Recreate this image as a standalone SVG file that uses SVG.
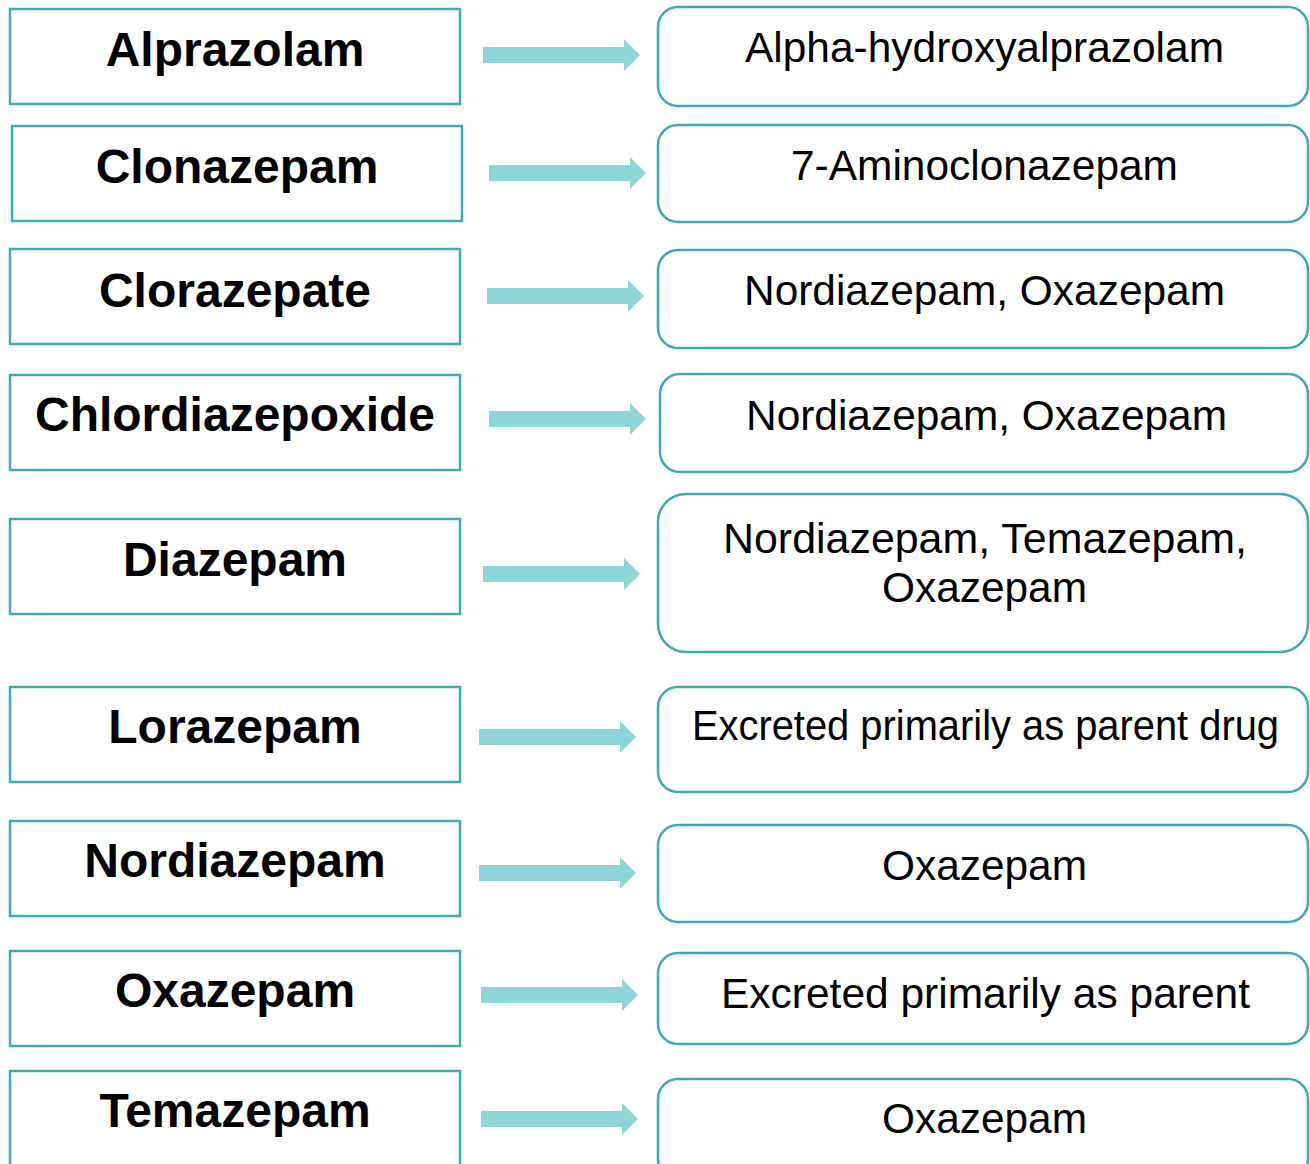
<svg xmlns="http://www.w3.org/2000/svg" width="1310" height="1164" viewBox="0 0 1310 1164">
<style>
.drug{fill:#ffffff;stroke:#3cadb1;stroke-width:2.5}
.met{fill:#ffffff;stroke:#3ea9ae;stroke-width:2.5}
.dt{font-family:"Liberation Sans",Arial,sans-serif;font-weight:bold;font-size:48px;fill:#000;text-anchor:middle}
.mt{font-family:"Liberation Sans",Arial,sans-serif;font-size:42px;fill:#000;text-anchor:middle}
.arr{fill:#8ed5d8}
</style>
<rect width="1310" height="1164" fill="#ffffff"/>
<g id="connectors">
<path class="arr" d="M483 47 H624 V39 L640 55 L624 71 V63 H483 Z"/>
<path class="arr" d="M489 165 H630 V157 L646 173 L630 189 V181 H489 Z"/>
<path class="arr" d="M487 288 H628 V280 L644 296 L628 312 V304 H487 Z"/>
<path class="arr" d="M489 411 H630 V403 L646 419 L630 435 V427 H489 Z"/>
<path class="arr" d="M483 566 H624 V558 L640 574 L624 590 V582 H483 Z"/>
<path class="arr" d="M479 729 H620 V721 L636 737 L620 753 V745 H479 Z"/>
<path class="arr" d="M479 865 H620 V857 L636 873 L620 889 V881 H479 Z"/>
<path class="arr" d="M481 987 H622 V979 L638 995 L622 1011 V1003 H481 Z"/>
<path class="arr" d="M481 1111 H622 V1103 L638 1119 L622 1135 V1127 H481 Z"/>
</g>
<g id="alprazolam"><rect class="drug" x="10" y="9" width="450" height="95"/><text class="dt" x="235" y="66">Alprazolam</text></g>
<g id="clonazepam"><rect class="drug" x="12" y="126" width="450" height="95"/><text class="dt" x="237" y="183">Clonazepam</text></g>
<g id="clorazepate"><rect class="drug" x="10" y="249" width="450" height="95"/><text class="dt" x="235" y="307">Clorazepate</text></g>
<g id="chlordiazepoxide"><rect class="drug" x="10" y="375" width="450" height="95"/><text class="dt" x="235" y="431">Chlordiazepoxide</text></g>
<g id="diazepam"><rect class="drug" x="10" y="519" width="450" height="95"/><text class="dt" x="235" y="576">Diazepam</text></g>
<g id="lorazepam"><rect class="drug" x="10" y="687" width="450" height="95"/><text class="dt" x="235" y="743">Lorazepam</text></g>
<g id="nordiazepam"><rect class="drug" x="10" y="821" width="450" height="95"/><text class="dt" x="235" y="877">Nordiazepam</text></g>
<g id="oxazepam"><rect class="drug" x="10" y="951" width="450" height="95"/><text class="dt" x="235" y="1007">Oxazepam</text></g>
<g id="temazepam"><rect class="drug" x="10" y="1071" width="450" height="100"/><text class="dt" x="235" y="1127">Temazepam</text></g>
<g id="m-alpha"><rect class="met" x="658" y="7" width="650" height="99" rx="20"/><text class="mt" x="984.5" y="62" textLength="479" lengthAdjust="spacingAndGlyphs">Alpha-hydroxyalprazolam</text></g>
<g id="m-7amino"><rect class="met" x="658" y="125" width="650" height="97" rx="20"/><text class="mt" x="984.5" y="180" textLength="387" lengthAdjust="spacingAndGlyphs">7-Aminoclonazepam</text></g>
<g id="m-clorazepate"><rect class="met" x="658" y="250" width="650" height="98" rx="20"/><text class="mt" x="984.5" y="305" textLength="481" lengthAdjust="spacingAndGlyphs">Nordiazepam, Oxazepam</text></g>
<g id="m-chlordiazepoxide"><rect class="met" x="660" y="374" width="648" height="98" rx="20"/><text class="mt" x="986.5" y="430" textLength="481" lengthAdjust="spacingAndGlyphs">Nordiazepam, Oxazepam</text></g>
<g id="m-diazepam"><rect class="met" x="658" y="494" width="650" height="158" rx="28"/><text class="mt" x="985" y="553" textLength="524" lengthAdjust="spacingAndGlyphs">Nordiazepam, Temazepam,</text><text class="mt" x="984.5" y="602" textLength="205" lengthAdjust="spacingAndGlyphs">Oxazepam</text></g>
<g id="m-lorazepam"><rect class="met" x="658" y="687" width="650" height="105" rx="20"/><text class="mt" x="985.5" y="740" textLength="587" lengthAdjust="spacingAndGlyphs">Excreted primarily as parent drug</text></g>
<g id="m-nordiazepam"><rect class="met" x="658" y="825" width="650" height="97" rx="20"/><text class="mt" x="984.5" y="880" textLength="205" lengthAdjust="spacingAndGlyphs">Oxazepam</text></g>
<g id="m-oxazepam"><rect class="met" x="658" y="953" width="650" height="91" rx="20"/><text class="mt" x="985.5" y="1008" textLength="529" lengthAdjust="spacingAndGlyphs">Excreted primarily as parent</text></g>
<g id="m-temazepam"><rect class="met" x="658" y="1079" width="650" height="100" rx="20"/><text class="mt" x="984.5" y="1133" textLength="205" lengthAdjust="spacingAndGlyphs">Oxazepam</text></g>
</svg>
